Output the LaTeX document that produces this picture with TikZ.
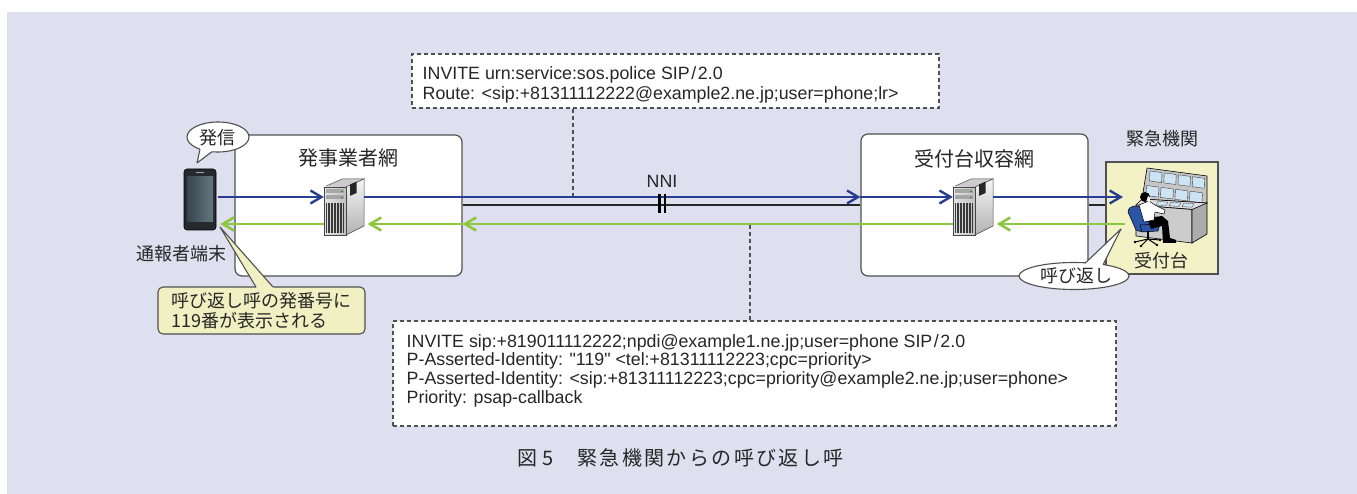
\documentclass[tikz,border=0pt]{standalone}
\usepackage{fontspec}
\setmainfont{Liberation Sans}
\newfontfamily\sipfont{Liberation Sans}
\newfontfamily\jp{Noto Sans CJK JP}
\newfontfamily\capfont[LetterSpace=12]{Noto Sans CJK JP}
\usetikzlibrary{arrows.meta,shapes.geometric}

\definecolor{bgcol}{RGB}{222,224,240}
\definecolor{linegray}{RGB}{80,80,80}
\definecolor{textcol}{RGB}{38,38,38}
\definecolor{sipblue}{RGB}{40,62,145}
\definecolor{sipgreen}{RGB}{141,198,63}
\definecolor{notefill}{RGB}{240,240,194}
\definecolor{agencyfill}{RGB}{242,242,198}
\definecolor{screenblue}{RGB}{205,228,245}
\definecolor{chairblue}{RGB}{45,85,165}
\definecolor{phonebody}{RGB}{38,42,46}

\newcommand\slashsp{\kern1.6pt/\kern1.6pt}

\tikzset{
  netbox/.style={draw=linegray, fill=white, line width=1.2pt, rounded corners=7pt, inner sep=0pt},
  agencybox/.style={draw=linegray, fill=agencyfill, line width=1.1pt, inner sep=0pt},
  msgbox/.style={draw=linegray, fill=white, line width=1.1pt, dash pattern=on 4pt off 3pt, inner sep=0pt},
  leader/.style={draw=linegray, line width=1.1pt, dash pattern=on 4pt off 3pt},
  linkline/.style={draw=black!85, line width=1.2pt},
  fwdarrow/.style={draw=sipblue, line width=2.4pt, -{Straight Barb[length=11pt,width=13pt]}},
  backarrow/.style={draw=sipgreen, line width=2.6pt, -{Straight Barb[length=11pt,width=13pt]}},
  jptitle/.style={font=\jp\fontsize{20}{24}\selectfont, text=textcol, inner sep=0pt},
  jplabel/.style={font=\jp\fontsize{18}{21}\selectfont, text=textcol, inner sep=0pt},
  siptext/.style={font=\sipfont\fontsize{17.8}{20}\selectfont, text=textcol, inner sep=0pt, anchor=base west},
  bubble/.style={ellipse, draw=linegray, fill=white, line width=1.1pt, inner sep=0pt},
  notebox/.style={draw=linegray, fill=notefill, line width=1.1pt, rounded corners=5pt, inner sep=0pt},
  srvslot/.style={minimum width=40pt, minimum height=56pt, inner sep=0pt},
  server/.pic={
    % top face
    \draw[line width=0.5pt, draw=gray!55!black, fill=gray!40] (-20,-20) -- (-2,-28) -- (20,-28) -- (2,-20) -- cycle;
    % side face
    \draw[line width=0.5pt, draw=gray!55!black, top color=gray!8, bottom color=gray!60] (2,-20) -- (20,-28) -- (20,19) -- (2,28) -- cycle;
    % front face
    \draw[line width=0.5pt, draw=gray!55!black, left color=gray!20, right color=gray!50] (-20,-20) rectangle (2,28);
    % drive bays
    \fill[gray!70] (-18,-17.5) rectangle (0,-13.5);
    \fill[gray!70] (-18,-11.5) rectangle (0,-7.5);
    \fill[green!65!black] (-3,-16.2) rectangle (-1.2,-15);
    \fill[green!65!black] (-3,-10.2) rectangle (-1.2,-9);
    % vent grill
    \foreach \xx in {-17.5,-16,...,-1} \draw[gray!45!black, line width=0.45pt] (\xx,-4) -- (\xx,26);
    % dark panel on the side
    \fill[black!85] (6,-22.5) -- (12.5,-25.4) -- (12.5,-14) -- (6,-11.1) -- cycle;
  }
}

\begin{document}
\begin{tikzpicture}[x=1pt,y=-1pt]
\useasboundingbox (0,0) rectangle (1357,494);
\fill[bgcol] (7,12) rectangle (1357,494);

% networks and the agency
\node[netbox, minimum width=227pt, minimum height=141pt] (carrier) at (348.5,205.5) {};
\node[netbox, minimum width=227pt, minimum height=142pt] (access) at (974.5,205) {};
\node[agencybox, minimum width=112pt, minimum height=112pt] (agency) at (1162,218) {};

\node[jptitle] (carriertitle) at (348,158) {発事業者網};
\node[jptitle] (accesstitle) at (974.5,159) {受付台収容網};
\node[jplabel] (agencytitle) at (1162.5,138.5) {緊急機関};
\node[jplabel] (desktitle) at (1161.5,261) {受付台};

% SIP message boxes
\node[msgbox, minimum width=527pt, minimum height=54pt] (routebox) at (675.5,81) {};
\node[siptext] (route1) at (422.5,79.4) {INVITE urn:service:sos.police SIP\slashsp 2.0};
\node[siptext] (route2) at (422.5,99.4) {Route: <sip:+81311112222@example2.ne.jp;user=phone;lr>};

\node[msgbox, minimum width=723pt, minimum height=105pt] (pbox) at (754.5,373.5) {};
\node[siptext] (cb1) at (406.5,347.4) {INVITE sip:+819011112222;npdi@example1.ne.jp;user=phone SIP\slashsp 2.0};
\node[siptext] (cb2) at (406.5,365.8) {P-Asserted-Identity: "119" <tel:+81311112223;cpc=priority>};
\node[siptext] (cb3) at (406.5,384.2) {P-Asserted-Identity: <sip:+81311112223;cpc=priority@example2.ne.jp;user=phone>};
\node[siptext] (cb4) at (406.5,403.1) {Priority: psap-callback};

% rows of the signalling lines
\coordinate (fwd) at (0,197);
\coordinate (back) at (0,224);
\coordinate (link) at (0,205);
\coordinate (opin) at (1123,197);
\coordinate (opout) at (1125,224);

% NNI link
\draw[linkline] (carrier.east |- link) -- (access.west |- link);
\draw[linkline] (access.east |- link) -- (agency.west |- link);

% terminal
\node[draw=black, fill=phonebody, line width=0.6pt, rounded corners=3pt, minimum width=32pt, minimum height=61pt, inner sep=0pt] (phone) at (200,199.5) {};
\shade[left color={rgb,255:red,55;green,70;blue,78}, right color={rgb,255:red,100;green,118;blue,126}] (187,177) rectangle (213,222);
\draw[gray!70, line width=1pt] (196,173) -- (204,173);
\node[jplabel] (phonelabel) at (181.5,254) {通報者端末};

% servers
\node[srvslot] (srv1) at (344,207) {};
\node[srvslot] (srv2) at (973,207) {};
\pic at (344,207) {server};
\pic at (973,207) {server};

% reception console and operator
\filldraw[fill=gray!45, draw=black, line width=0.6pt] (1147,168) -- (1207,176) -- (1207,203) -- (1142,199) -- cycle;
\foreach \i in {0,...,3} {
  \filldraw[fill=screenblue, draw=black!75, line width=0.4pt] ({1150+14.2*\i},{171+1.9*\i}) -- ++(12,1.6) -- ++(-0.4,10) -- ++(-12,-1.6) -- cycle;
  \filldraw[fill=screenblue, draw=black!75, line width=0.4pt] ({1146.5+14.5*\i},{185.5+1.9*\i}) -- ++(12.5,1.6) -- ++(-0.6,10) -- ++(-12.5,-1.6) -- cycle;
}
\filldraw[fill=gray!25, draw=black, line width=0.6pt] (1142,199) -- (1207,203) -- (1200,210) -- (1136,205) -- cycle;
\foreach \i in {0,...,2}
  \filldraw[fill=screenblue, draw=black!75, line width=0.3pt] ({1158+13*\i},{201.5+0.8*\i}) -- ++(10,0.6) -- ++(-2,3.5) -- ++(-10,-0.6) -- cycle;
\filldraw[fill=gray!40, draw=black, line width=0.6pt] (1136,205) -- (1192,209.5) -- (1192,243) -- (1136,236) -- cycle;
\filldraw[fill=gray!65, draw=black, line width=0.6pt] (1192,209.5) -- (1207,203) -- (1207,234) -- (1192,243) -- cycle;
% chair
\filldraw[fill=chairblue, draw=black, line width=0.5pt] (1128,212) .. controls (1128,205) and (1139,204) .. (1142,209) -- (1152,226) .. controls (1150,232) and (1140,233) .. (1136,230) -- cycle;
\filldraw[fill=chairblue, draw=black, line width=0.5pt] (1140,225) -- (1160,224) -- (1158,231) -- (1142,232) -- cycle;
\draw[black, line width=1.3pt] (1148,231) -- (1148,239);
\draw[black, line width=1pt] (1148,239) -- (1135,242) (1148,239) -- (1141,246) (1148,239) -- (1157,245) (1148,239) -- (1160,240);
\foreach \p in {(1135,242),(1141,246),(1157,245),(1160,240)} \fill[black] \p circle (1.3);
% operator
\fill[black] (1147,218) -- (1162,216) -- (1168,221) -- (1170,238) -- (1176,240) -- (1176,243) -- (1163,243) -- (1162,226) -- (1151,229) -- cycle;
\filldraw[fill=white, draw=black, line width=0.5pt] (1139,205) -- (1149,201) -- (1155,205) -- (1165,210) -- (1164,214) -- (1155,212) -- (1154,220) -- (1144,222) -- cycle;
\fill[black] (1145,197) circle (5);
\fill[white] (1148,196) -- (1150.5,198) -- (1149.5,202) -- (1146.5,201) -- cycle;

% signalling arrows towards the agency
\draw[fwdarrow, shorten <=2pt] (phone.east |- fwd) -- (srv1.west |- fwd);
\draw[fwdarrow] (srv1.east |- fwd) -- (access.west |- fwd);
\draw[fwdarrow] (access.west |- fwd) -- (srv2.west |- fwd);
\draw[fwdarrow] (srv2.east |- fwd) -- (opin);
% call-back arrows
\draw[backarrow, shorten >=3.5pt] (opout) -- (srv2.east |- back);
\draw[backarrow] (srv2.west |- back) -- (carrier.east |- back);
\draw[backarrow, shorten >=3.5pt] (carrier.east |- back) -- (srv1.east |- back);
\draw[backarrow, shorten >=4pt] (srv1.west |- back) -- (phone.east |- back);

% NNI break mark and label
\node[font=\sipfont\fontsize{17.8}{20}\selectfont, text=textcol, inner sep=0pt] (nni) at (662,181.5) {NNI};
\draw[black, line width=2.8pt] (659.8,194) -- (659.8,213);
\draw[black, line width=2.8pt] (665,194) -- (665,213);

% leaders to the message boxes
\coordinate (routetap) at (573,196);
\draw[leader] (routebox.south -| routetap) -- (routetap);
\coordinate (ptap) at (750,225);
\draw[leader] (ptap) -- (pbox.north -| ptap);

% speech bubbles
\node[bubble, minimum width=62pt, minimum height=30pt] (dial) at (218,137) {};
\fill[white] (197,163) -- (200.6,146.4) -- (215,149.4) -- cycle;
\draw[linegray, line width=1.1pt, line join=round] (200,149.2) -- (197,163) -- (212,151.7);
\node[jplabel] (dialtext) at (217.5,138) {発信};

\node[bubble, minimum width=110pt, minimum height=27pt] (recall) at (1074,276) {};
\fill[white] (1121,229) -- (1081.4,266.7) -- (1101.2,268.4) -- cycle;
\draw[linegray, line width=1.1pt, line join=round] (1085,263.3) -- (1121,229) -- (1103,264.8);
\node[jplabel] (recalltext) at (1076,275.5) {呼び返し};

% note about the displayed number
\node[notebox, minimum width=207pt, minimum height=47pt, align=left, font=\jp\fontsize{18}{20}\selectfont, text=textcol] (note) at (261.5,310.5) {呼び返し呼の発番号に\\119番が表示される};
\fill[notefill] (220,227) -- (257.5,289.5) -- (275.2,289.5) -- cycle;
\draw[linegray, line width=1.1pt, line join=round] (256,287) -- (220,227) -- (273,287);

% caption
\node[font=\capfont\fontsize{20}{24}\selectfont, text=textcol, inner sep=0pt, anchor=west] (caption) at (517,458) {図\hspace{5pt}5\hspace{24pt}緊急機関からの呼び返し呼};
\end{tikzpicture}
\end{document}
